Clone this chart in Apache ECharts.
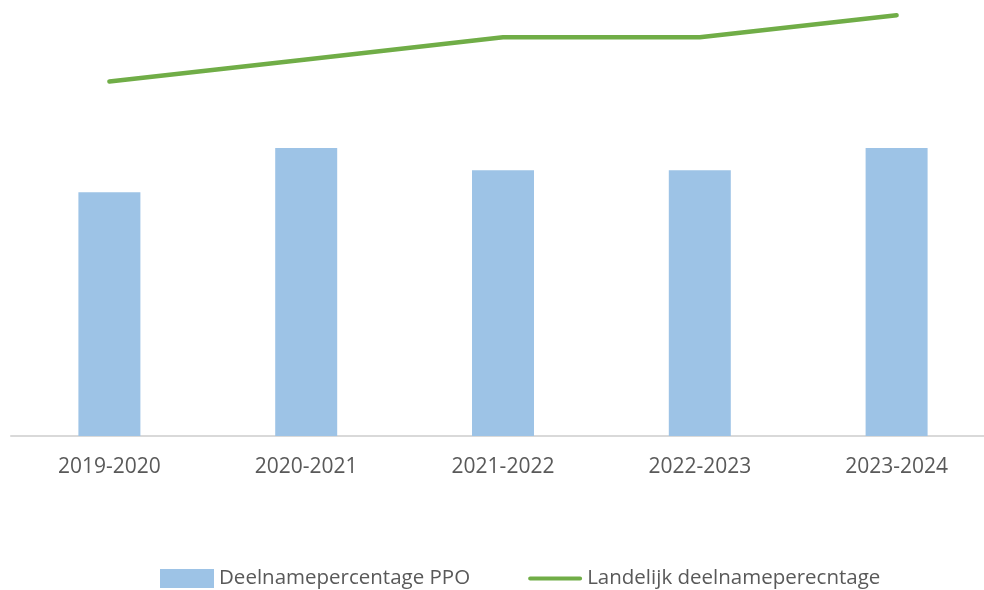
<!DOCTYPE html>
<html>
<head>
<meta charset="utf-8">
<script src="https://cdn.jsdelivr.net/npm/echarts@6/dist/echarts.min.js"></script>
<style>
  html, body { margin: 0; padding: 0; background: #fff; }
  #chart { width: 984px; height: 590px; }
</style>
</head>
<body>
<div id="chart"></div>
<script>
// data
const years = ['2019-2020', '2020-2021', '2021-2022', '2022-2023', '2023-2024']
const ppo = [55, 65, 60, 60, 65]
const landelijk = [80, 85, 90, 90, 95]

const font = "'Open Sans', 'Noto Sans', sans-serif"
// dikke lijn met ronde uiteinden voor de legenda
const lineIcon = 'path://M2.25,0 L57.75,0 A2.25,2.25 0 0 1 57.75,4.5 L2.25,4.5 A2.25,2.25 0 0 1 2.25,0 Z'

const myChart = echarts.init(document.getElementById('chart'))
myChart.setOption({
  animation: false,
  grid: {
    left: 11,
    width: 984,
    top: -7,
    bottom: 154,
    outerBoundsMode: 'none'
  },
  legend: {
    left: 155,
    top: 563,
    itemWidth: 54,
    itemHeight: 19,
    itemGap: 58,
    textStyle: { color: '#595959', fontSize: 20.5, fontFamily: font },
    data: [
      { name: 'Deelnamepercentage PPO', icon: 'rect' },
      { name: 'Landelijk deelnameperecntage', icon: lineIcon }
    ]
  },
  xAxis: {
    type: 'category',
    data: years,
    axisLine: { lineStyle: { color: '#d9d9d9', width: 2 } },
    axisTick: { show: false },
    axisLabel: { color: '#595959', fontSize: 21, fontFamily: font, margin: 21 }
  },
  yAxis: {
    type: 'value',
    min: 0,
    max: 100,
    show: false,
    splitLine: { show: false }
  },
  series: [
    {
      name: 'Deelnamepercentage PPO',
      type: 'bar',
      data: ppo,
      barWidth: '31.5%',
      itemStyle: { color: '#9dc3e6' }
    },
    {
      name: 'Landelijk deelnameperecntage',
      type: 'line',
      data: landelijk,
      symbol: 'none',
      lineStyle: { color: '#70ad47', width: 4.5, cap: 'round', join: 'round' },
      itemStyle: { color: '#70ad47' },
      z: 3
    }
  ]
})
</script>
</body>
</html>
